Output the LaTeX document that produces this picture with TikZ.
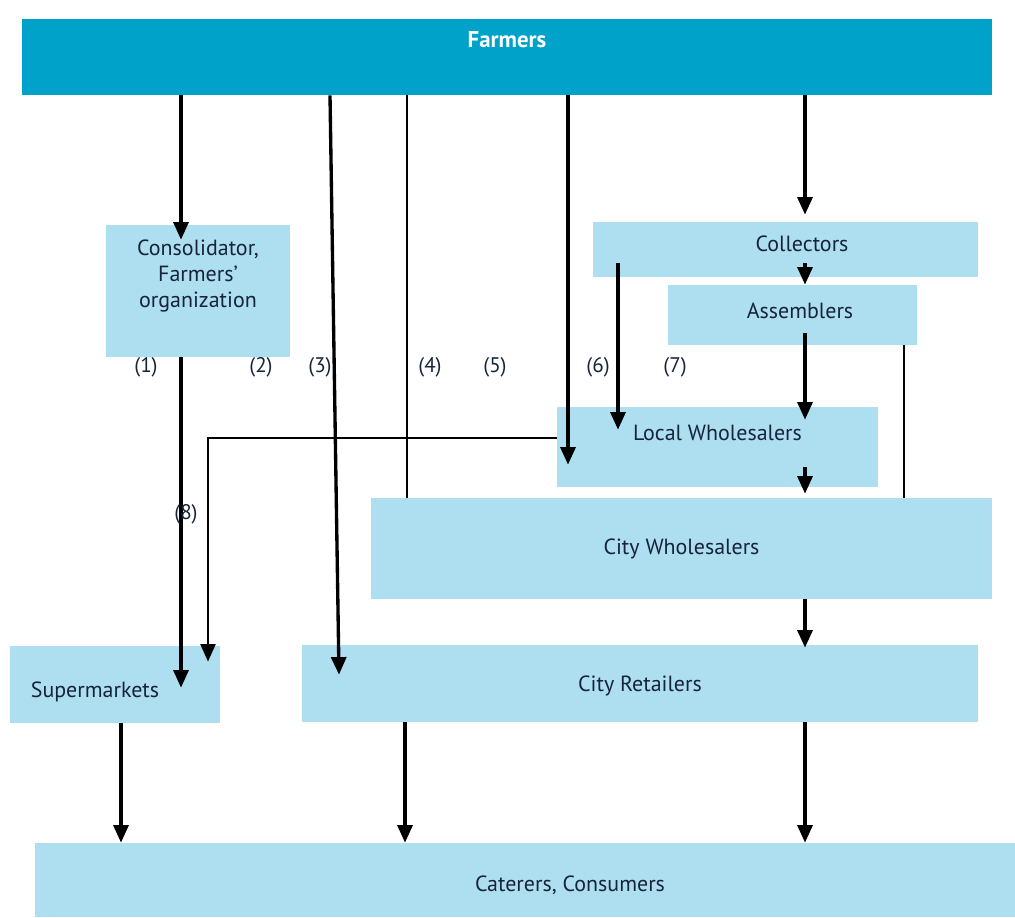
\documentclass[tikz,border=0pt]{standalone}
\usepackage{fontspec}
\setmainfont{PT Sans}
\usetikzlibrary{arrows.meta,calc}
\definecolor{farmblue}{HTML}{00A2C9}
\definecolor{chainblue}{HTML}{AEDFF0}
\definecolor{ink}{HTML}{16243A}
\tikzset{
  chain/.style={fill=chainblue, inner sep=0pt},
  chaintext/.style={text=ink, align=center, inner sep=0pt, font=\fontsize{12.5}{15}\selectfont},
  flow/.style={line width=1.9pt, -{Triangle[length=10pt,width=8.5pt]}},
  link/.style={line width=1.5pt},
  tag/.style={text=ink, inner sep=0pt, font=\fontsize{12}{14}\selectfont},
}
\begin{document}
\begin{tikzpicture}[x=0.02cm, y=-0.02cm]
\useasboundingbox (0,0) rectangle (1015,917);

% boxes
\node (farmers) at (507,57) [chain, fill=farmblue, minimum width=19.4cm, minimum height=1.52cm,
  label={[chaintext, text=white, font=\bfseries\fontsize{13}{15}\selectfont, yshift=0.34cm]center:Farmers}] {};
\node (consol) at (198,291) [chain, minimum width=3.68cm, minimum height=2.64cm,
  label={[chaintext, yshift=0.3cm]center:Consolidator,\\Farmers’\\organization}] {};
\node (collect) at (785.5,249.5) [chain, minimum width=7.7cm, minimum height=1.1cm,
  label={[chaintext, xshift=0.33cm, yshift=0.11cm]center:Collectors}] {};
\node (assemb) at (792.5,315) [chain, minimum width=4.98cm, minimum height=1.2cm,
  label={[chaintext, xshift=0.15cm, yshift=0.08cm]center:Assemblers}] {};
\node (localw) at (717.5,447) [chain, minimum width=6.42cm, minimum height=1.6cm,
  label={[chaintext, yshift=0.28cm]center:Local Wholesalers}] {};
\node (cityw) at (681.5,548.5) [chain, minimum width=12.42cm, minimum height=2.02cm,
  label={[chaintext]center:City Wholesalers}] {};
\node (superm) at (115,684.5) [chain, minimum width=4.2cm, minimum height=1.54cm,
  label={[chaintext, xshift=-0.4cm, yshift=-0.15cm]center:Supermarkets}] {};
\node (cityr) at (640,683.5) [chain, minimum width=13.52cm, minimum height=1.54cm,
  label={[chaintext, yshift=-0.05cm]center:City Retailers}] {};
\node (cater) at (525,880) [chain, minimum width=19.6cm, minimum height=1.48cm,
  label={[chaintext, xshift=0.9cm, yshift=-0.1cm]center:Caterers, Consumers}] {};

% columns of the flows
\coordinate (colA) at (181,0);
\coordinate (colB) at (208,0);
\coordinate (colC) at (330,0);
\coordinate (colCC) at (339,0);
\coordinate (colD) at (407,0);
\coordinate (colE) at (568,0);
\coordinate (colF) at (805,0);
\coordinate (colG) at (618,0);
\coordinate (colH) at (904,0);
\coordinate (colI) at (121,0);
\coordinate (colJ) at (405,0);

% flows
\draw [flow] (farmers.south -| colA) -- ($(consol.north -| colA)+(0,15)$);
\draw [flow] (consol.south -| colA) -- ($(superm.north -| colA)+(0,42)$);
\draw [flow] (farmers.south -| colC) -- ($(cityr.north -| colCC)+(0,30)$);
\draw [link] (farmers.south -| colD) -- (cityw.north -| colD);
\draw [flow] (farmers.south -| colE) -- ($(localw.north -| colE)+(0,58)$);
\draw [flow] (farmers.south -| colF) -- ($(collect.north -| colF)+(0,-7)$);
\draw [flow] ($(collect.south -| colF)+(0,-14)$) -- (assemb.north -| colF);
\draw [flow] ($(collect.south -| colG)+(0,-14)$) -- ($(localw.north -| colG)+(0,23)$);
\draw [flow] ($(assemb.south -| colF)+(0,-12)$) -- ($(localw.north -| colF)+(0,13)$);
\draw [link] (assemb.south -| colH) -- (cityw.north -| colH);
\draw [flow] ($(localw.south -| colF)+(0,-20)$) -- ($(cityw.north -| colF)+(0,-4)$);
\draw [flow] (cityw.south -| colF) -- ($(cityr.north -| colF)+(0,3)$);
\draw [flow, line width=1.4pt] ($(localw.west)+(0,-9)$) -| ($(superm.north -| colB)+(0,16)$);
\draw [flow] (superm.south -| colI) -- (cater.north -| colI);
\draw [flow] (cityr.south -| colJ) -- (cater.north -| colJ);
\draw [flow] (cityr.south -| colF) -- (cater.north -| colF);

% channel numbers
\node (t1) at (146,367) [tag] {(1)};
\node (t2) at (261,367) [tag] {(2)};
\node (t3) at (320,367) [tag] {(3)};
\node (t4) at (430,367) [tag] {(4)};
\node (t5) at (495,367) [tag] {(5)};
\node (t6) at (598,367) [tag] {(6)};
\node (t7) at (675,367) [tag] {(7)};
\node (t8) at (186,514) [tag] {(8)};
\end{tikzpicture}
\end{document}
